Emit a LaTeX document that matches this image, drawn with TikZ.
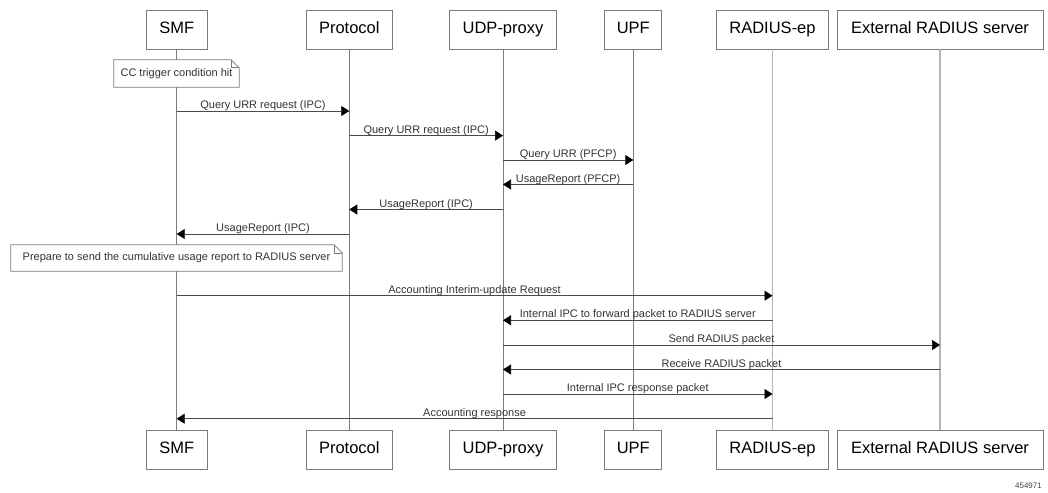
\documentclass[tikz,border=0pt]{standalone}
\usepackage{fontspec}
\setmainfont{Liberation Sans}
\usetikzlibrary{arrows.meta}
\definecolor{boxgray}{HTML}{7A7A7A}
\definecolor{lifegray}{HTML}{7C7C7C}
\definecolor{lifelight}{HTML}{B4B4B4}
\definecolor{msggray}{HTML}{4A4A4A}
\newcommand\seqmsg[4]{\draw[msg] (#1 |- 0,#3) -- node[lbl]{#4} (#2 |- 0,#3);}
\begin{document}
\begin{tikzpicture}[x=1pt,y=-1pt,
  actor/.style={draw=boxgray, line width=0.8pt, minimum height=39pt, inner sep=0pt,
    text height=12pt, text depth=3.5pt,
    font=\fontsize{16.5}{18}\selectfont, fill=white},
  life/.style={draw=lifegray, line width=0.8pt},
  lifel/.style={draw=lifelight, line width=1.5pt},
  msg/.style={draw=msggray, line width=0.7pt, -{Triangle[length=8pt,width=10pt,color=black,fill=black]}},
  lbl/.style={anchor=base, yshift=2.5pt, inner sep=0pt, text=black!80,
    font=\fontsize{11}{13}\selectfont},
  notebox/.style={inner sep=0pt, font=\fontsize{11}{13}\selectfont, text=black!80},
  noteline/.style={draw=boxgray, line width=0.8pt, fill=white},
  tag/.style={inner sep=0pt, font=\fontsize{8}{9}\selectfont, text=black!75}
]
\useasboundingbox (0,0) rectangle (1048,492);
% top actors
\node[actor, minimum width=61pt]  (SMFt) at (176.7,29.5) {SMF};
\node[actor, minimum width=86pt]  (PROt) at (349.3,29.5) {Protocol};
\node[actor, minimum width=107pt] (UDPt) at (503,29.5) {UDP-proxy};
\node[actor, minimum width=57pt]  (UPFt) at (633.3,29.5) {UPF};
\node[actor, minimum width=112pt] (RADt) at (772.5,29.5) {RADIUS-ep};
\node[actor, minimum width=206pt] (EXTt) at (940,29.5) {External RADIUS server};
% bottom actors
\node[actor, minimum width=61pt]  (SMFb) at (176.7,449.5) {SMF};
\node[actor, minimum width=86pt]  (PROb) at (349.3,449.5) {Protocol};
\node[actor, minimum width=107pt] (UDPb) at (503,449.5) {UDP-proxy};
\node[actor, minimum width=57pt]  (UPFb) at (633.3,449.5) {UPF};
\node[actor, minimum width=112pt] (RADb) at (772.5,449.5) {RADIUS-ep};
\node[actor, minimum width=206pt] (EXTb) at (940,449.5) {External RADIUS server};
% lifelines
\draw[life]  (SMFt.south) -- (SMFb.north);
\draw[life]  (PROt.south) -- (PROb.north);
\draw[life]  (UDPt.south) -- (UDPb.north);
\draw[life]  (UPFt.south) -- (UPFb.north);
\draw[lifel] (RADt.south) -- (RADb.north);
\draw[lifel] (EXTt.south) -- (EXTb.north);
% notes
\node[notebox, minimum width=125pt, minimum height=27pt] (N1) at (176.5,73.5) {};
\draw[noteline] (N1.north west) -- ([xshift=-8pt]N1.north east) -- ([yshift=-8pt]N1.north east)
  -- (N1.south east) -- (N1.south west) -- cycle;
\draw[draw=boxgray, line width=0.6pt] ([xshift=-8pt]N1.north east) -- ([xshift=-8pt,yshift=-8pt]N1.north east) -- ([yshift=-8pt]N1.north east);
\node[notebox] at (N1.center) {CC trigger condition hit};
\node[notebox, minimum width=331pt, minimum height=26pt] (N2) at (176.5,258) {};
\draw[noteline] (N2.north west) -- ([xshift=-8pt]N2.north east) -- ([yshift=-8pt]N2.north east)
  -- (N2.south east) -- (N2.south west) -- cycle;
\draw[draw=boxgray, line width=0.6pt] ([xshift=-8pt]N2.north east) -- ([xshift=-8pt,yshift=-8pt]N2.north east) -- ([yshift=-8pt]N2.north east);
\node[notebox] at (N2.center) {Prepare to send the cumulative usage report to RADIUS server};
% messages
\seqmsg{SMFt}{PROt}{111}{Query URR request (IPC)}
\seqmsg{PROt}{UDPt}{135.6}{Query URR request (IPC)}
\seqmsg{UDPt}{UPFt}{160}{Query URR (PFCP)}
\seqmsg{UPFt}{UDPt}{184.5}{UsageReport (PFCP)}
\seqmsg{UDPt}{PROt}{209.5}{UsageReport (IPC)}
\seqmsg{PROt}{SMFt}{234}{UsageReport (IPC)}
\seqmsg{SMFt}{RADt}{295.7}{Accounting Interim-update Request}
\seqmsg{RADt}{UDPt}{320.3}{Internal IPC to forward packet to RADIUS server}
\seqmsg{UDPt}{EXTt}{345}{Send RADIUS packet}
\seqmsg{EXTt}{UDPt}{369.5}{Receive RADIUS packet}
\seqmsg{UDPt}{RADt}{394}{Internal IPC response packet}
\seqmsg{RADt}{SMFt}{418.7}{Accounting response}
% figure number
\node[tag, anchor=base east] (fig) at (1042,488) {454971};
\end{tikzpicture}
\end{document}
